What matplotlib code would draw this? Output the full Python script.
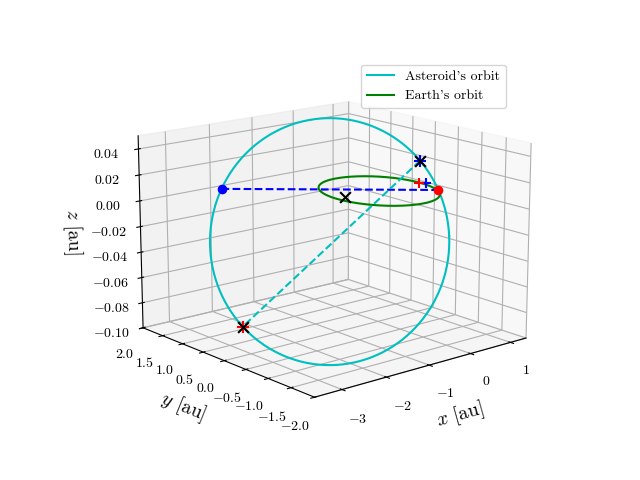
import numpy as np
import matplotlib
matplotlib.use("Agg")
import matplotlib.pyplot as plt

plt.rcParams.update({"font.family": "serif", "font.serif": ["cmr10"],
                     "mathtext.fontset": "cm", "axes.formatter.use_mathtext": True})

# values
ast_radius = 1.92
ast_z0 = -0.026
ast_zamp = 0.072
earth_radius = 1.0
earth_z = 0.004
red_radius = 1.12
red_angle_deg = -20.0
sun = [-0.40, 0.40, -0.002]
red_t = -0.39
blue_t = np.pi + 0.40
top_t = -0.68
bot_t = 2.35
plus_red = [0.15, -0.75, 0.016]
plus_blue = [0.25, -0.80, 0.016]

xlim = (-3.6, 1.4); ylim = (-2, 2); zlim = (-0.1, 0.05)
box = (4.4, 4.4, 3.2)
az = np.deg2rad(-130)
sx = (xlim[1]-xlim[0])/box[0]; sy = (ylim[1]-ylim[0])/box[1]
r = np.array([-np.sin(az)*sx, np.cos(az)*sy]); d = np.array([np.cos(az)*sx, np.sin(az)*sy])
red_pt = red_radius * np.array([np.cos(np.deg2rad(red_angle_deg)), np.sin(np.deg2rad(red_angle_deg))])
ast_center = red_pt - ast_radius * (np.cos(red_t) * r + np.sin(red_t) * d)

def ast(t):
    t = np.atleast_1d(t)
    xy = ast_center[:, None] + ast_radius * (np.cos(t)[None] * r[:, None] + np.sin(t)[None] * d[:, None])
    z = ast_z0 - ast_zamp * np.sin(t)
    return xy[0], xy[1], z

fig = plt.figure(figsize=(6.4, 4.8), dpi=100)
ax = fig.add_subplot(projection="3d")
ax.set_box_aspect(box, zoom=1.15)
t = np.linspace(0, 2*np.pi, 400)
ax.plot(*ast(t), color="c", label="Asteroid's orbit")
ax.plot(earth_radius*np.cos(t), earth_radius*np.sin(t), earth_z + 0*t, color="g", label="Earth's orbit")
bx, by, bz = ast(blue_t)
rx, ry, rz = ast(red_t)
ax.plot([bx[0], rx[0]], [by[0], ry[0]], [bz[0], rz[0]], "b--")
ax.scatter(bx, by, bz, color="b", s=35, depthshade=False)
ax.scatter(rx, ry, rz, color="r", s=35, depthshade=False)
tx, ty, tz = ast(top_t); lx, ly, lz = ast(bot_t)
ax.plot([tx[0], lx[0]], [ty[0], ly[0]], [tz[0], lz[0]], "c--")
ax.scatter(tx, ty, tz, color="b", marker="+", s=80, depthshade=False)
ax.scatter(tx, ty, tz, color="k", marker="x", s=60, depthshade=False)
ax.scatter(lx, ly, lz, color="r", marker="+", s=80, depthshade=False)
ax.scatter(lx, ly, lz, color="k", marker="x", s=60, depthshade=False)
ax.scatter(*plus_red, color="r", marker="+", s=60, depthshade=False)
ax.scatter(*plus_blue, color="b", marker="+", s=60, depthshade=False)
ax.scatter(*sun, color="k", marker="x", s=60, depthshade=False)
ax.set_xlim(*xlim); ax.set_ylim(*ylim); ax.set_zlim(*zlim)
ax.set_xticks([-3, -2, -1, 0, 1])
ax.set_yticks([-2, -1.5, -1, -0.5, 0, 0.5, 1, 1.5, 2])
ax.set_zticks([-0.1, -0.08, -0.06, -0.04, -0.02, 0, 0.02, 0.04])
ax.set_xlabel(r"$x$ [au]", fontsize=14)
ax.set_ylabel(r"$y$ [au]", fontsize=14)
ax.set_zlabel(r"$z$ [au]", fontsize=14)
ax.view_init(elev=15, azim=-130)
ax.legend(loc="upper right")
fig.savefig("out.png")
